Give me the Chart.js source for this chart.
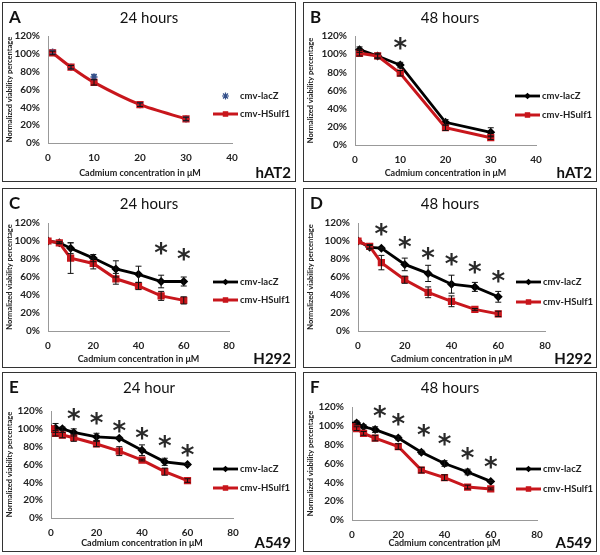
<!DOCTYPE html>
<html>
<head>
<meta charset="utf-8">
<script src="https://cdn.jsdelivr.net/npm/chart.js@4.4.0/dist/chart.umd.min.js"></script>
<style>
body { margin: 0; background: #fff; width: 600px; height: 555px; position: relative; overflow: hidden; font-family: Lato, sans-serif; color: #111; }
.panel { position: absolute; width: 294px; height: 180px; }
.panel canvas { position: absolute; left: 0; top: 0; }
.frame { position: absolute; left: 0; top: 0; right: 0; bottom: 0; border: 1px solid #333; pointer-events: none; }
.letter { position: absolute; left: 7px; top: 5px; font-weight: bold; font-size: 17px; line-height: 20px; }
.title { position: absolute; left: 0; width: 294px; top: 6px; text-align: center; font-size: 15px; line-height: 18px; }
.cell { position: absolute; right: 5px; bottom: 1px; font-weight: bold; font-size: 15px; line-height: 18px; }
</style>
</head>
<body>
<div class="panel" style="left:2px;top:2px"><canvas id="cA" width="294" height="180"></canvas><div class="letter">A</div><div class="title">24 hours</div><div class="cell">hAT2</div><div class="frame"></div></div>
<div class="panel" style="left:303px;top:2px"><canvas id="cB" width="294" height="180"></canvas><div class="letter">B</div><div class="title">48 hours</div><div class="cell">hAT2</div><div class="frame"></div></div>
<div class="panel" style="left:2px;top:188px"><canvas id="cC" width="294" height="180"></canvas><div class="letter">C</div><div class="title">24 hours</div><div class="cell">H292</div><div class="frame"></div></div>
<div class="panel" style="left:303px;top:188px"><canvas id="cD" width="294" height="180"></canvas><div class="letter">D</div><div class="title">48 hours</div><div class="cell">H292</div><div class="frame"></div></div>
<div class="panel" style="left:2px;top:372px"><canvas id="cE" width="294" height="180"></canvas><div class="letter">E</div><div class="title">24 hour</div><div class="cell">A549</div><div class="frame"></div></div>
<div class="panel" style="left:303px;top:372px"><canvas id="cF" width="294" height="180"></canvas><div class="letter">F</div><div class="title">48 hours</div><div class="cell">A549</div><div class="frame"></div></div>
<script>
// tick values
const yTicks = [0, 20, 40, 60, 80, 100, 120];
const xTicksHAT2 = [0, 10, 20, 30, 40];
const xTicksLung = [0, 20, 40, 60, 80];

// A - hAT2 24 h
const doseA = [1, 5, 10, 20, 30];
const lacZA = [102, 85, 74, 43, 27];
const lacZErrA = [2, 2, 3, 2, 2];
const hsulfA = [101, 85, 68, 43, 27];
const hsulfErrA = [2, 2, 3, 2, 2];
const starXA = [];
const starYA = [];

// B - hAT2 48 h
const doseB = [1, 5, 10, 20, 30];
const lacZB = [105, 98, 88, 25, 14];
const lacZErrB = [3, 3, 3, 3, 5];
const hsulfB = [101, 98, 79, 19, 8];
const hsulfErrB = [3, 2, 3, 3, 2];
const starXB = [10];
const starYB = [113];

// C - H292 24 h
const doseC = [0, 5, 10, 20, 30, 40, 50, 60];
const lacZC = [100, 98, 92, 81, 69, 63, 55, 55];
const lacZErrC = [0, 1, 6, 4, 9, 9, 7, 5];
const hsulfC = [100, 98, 81, 75, 58, 50, 39, 34];
const hsulfErrC = [0, 1, 17, 6, 6, 4, 5, 4];
const starXC = [50, 60];
const starYC = [93, 87];

// D - H292 48 h
const doseD = [0, 5, 10, 20, 30, 40, 50, 60];
const lacZD = [100, 93, 92, 74, 64, 52, 49, 38];
const lacZErrD = [0, 2, 1, 7, 9, 10, 5, 6];
const hsulfD = [100, 94, 76, 57, 43, 33, 24, 19];
const hsulfErrD = [0, 2, 8, 4, 6, 6, 1, 3];
const starXD = [10, 20, 30, 40, 50, 60];
const starYD = [114, 100, 88, 81, 72, 62];

// E - A549 24 h
const doseE = [0, 2, 5, 10, 20, 30, 40, 50, 60];
const lacZE = [100, 101, 100, 96, 91, 89.5, 76, 63, 60];
const lacZErrE = [0, 5, 2, 4, 4, 1, 6, 4, 1];
const hsulfE = [100, 95, 93, 90, 83, 75, 65, 52, 42];
const hsulfErrE = [0, 3, 3, 4, 3, 5, 1, 4, 2];
const starXE = [10, 20, 30, 40, 50, 60];
const starYE = [118, 113, 104, 97, 88, 77];

// F - A549 48 h
const doseF = [0, 2, 5, 10, 20, 30, 40, 50, 60];
const lacZF = [100, 103, 99, 96, 87, 72, 60, 51, 41];
const lacZErrF = [0, 2, 2, 3, 2, 2, 3, 3, 1];
const hsulfF = [99, 97, 92, 87, 78, 53, 45, 35, 33];
const hsulfErrF = [0, 2, 2, 3, 3, 3, 3, 2, 1];
const starXF = [12, 20, 31, 40, 50, 60];
const starYF = [117, 108, 97, 87, 72, 63];

Chart.defaults.font.family = 'Lato, sans-serif';
Chart.defaults.color = '#222';

const RED = '#c8161c';

function pts(xs, ys) {
  return xs.map((x, i) => ({ x: x, y: ys[i] }));
}

// vertical error bars from dataset.errors
const errorBars = {
  id: 'errorBars',
  afterDatasetsDraw(chart) {
    const ctx = chart.ctx;
    const xs = chart.scales.x, ys = chart.scales.y;
    chart.data.datasets.forEach(ds => {
      if (!ds.errors) return;
      ctx.save();
      ctx.strokeStyle = ds.errorColor || '#111';
      ctx.lineWidth = 1;
      ds.data.forEach((p, i) => {
        const e = ds.errors[i];
        if (!e) return;
        const px = xs.getPixelForValue(p.x);
        const top = ys.getPixelForValue(p.y + e);
        const bot = ys.getPixelForValue(p.y - e);
        ctx.beginPath();
        ctx.moveTo(px, top); ctx.lineTo(px, bot);
        ctx.moveTo(px - 3, top); ctx.lineTo(px + 3, top);
        ctx.moveTo(px - 3, bot); ctx.lineTo(px + 3, bot);
        ctx.stroke();
      });
      ctx.restore();
    });
  }
};

function starPlugin(sx, sy) {
  return {
    id: 'stars',
    afterDatasetsDraw(chart) {
      const ctx = chart.ctx;
      const size = 26;
      ctx.save();
      ctx.font = 'bold ' + size + 'px "DejaVu Sans"';
      ctx.fillStyle = '#2a2a2a';
      ctx.textAlign = 'center';
      ctx.textBaseline = 'alphabetic';
      sx.forEach((v, i) => {
        ctx.fillText('*', chart.scales.x.getPixelForValue(v), chart.scales.y.getPixelForValue(sy[i]) + size * 0.58);
      });
      ctx.restore();
    }
  };
}

function legendPlugin(lx, rows) {
  return {
    id: 'panelLegend',
    afterDraw(chart) {
      const ctx = chart.ctx;
      chart.data.datasets.forEach((ds, i) => {
        const y = rows[i], x0 = lx, x1 = lx + 25;
        ctx.save();
        if (ds.showLine !== false) {
          ctx.strokeStyle = ds.borderColor;
          ctx.lineWidth = ds.borderWidth;
          ctx.beginPath(); ctx.moveTo(x0, y); ctx.lineTo(x1, y); ctx.stroke();
        }
        ctx.fillStyle = ds.backgroundColor;
        ctx.strokeStyle = ds.borderColor;
        ctx.lineWidth = 1.2;
        Chart.helpers.drawPoint(ctx, { pointStyle: ds.pointStyle, radius: ds.pointRadius, rotation: 0, borderWidth: 1.2 }, (x0 + x1) / 2, y);
        ctx.font = 'bold 9.5px Lato';
        ctx.fillStyle = '#222';
        ctx.textBaseline = 'middle';
        ctx.fillText(ds.label, x1 + 2, y);
        ctx.restore();
      });
    }
  };
}

function makePanel(id, p) {
  const lacZ = {
    label: 'cmv-lacZ', data: pts(p.dose, p.lacZ), errors: p.lacZErr,
    borderColor: '#000', backgroundColor: '#000', borderWidth: 2.8,
    pointStyle: 'rectRot', pointRadius: 2.5, tension: 0, order: 1
  };
  if (p.lacZDots) {
    Object.assign(lacZ, { showLine: false, borderColor: '#34508a', backgroundColor: '#34508a', pointStyle: 'star', pointRadius: 3.5, borderWidth: 1.5, errorColor: '#34508a' });
  }
  const hsulf = {
    label: 'cmv-HSulf1', data: pts(p.dose, p.hsulf), errors: p.hsulfErr,
    borderColor: RED, backgroundColor: RED, borderWidth: 3,
    pointStyle: 'rect', pointRadius: 3, tension: p.tension || 0, order: 0
  };
  const b = p.box;
  new Chart(document.getElementById(id), {
    type: 'line',
    data: { datasets: [lacZ, hsulf] },
    options: {
      responsive: false, animation: false, events: [], devicePixelRatio: 1,
      layout: { padding: { top: b.top, right: 294 - b.right, left: 0, bottom: 0 } },
      plugins: { legend: { display: false }, tooltip: { enabled: false } },
      scales: {
        x: {
          type: 'linear', min: p.xTicks[0], max: p.xTicks[p.xTicks.length - 1],
          afterBuildTicks: s => { s.ticks = p.xTicks.map(v => ({ value: v })); },
          afterFit: s => { s.height = 180 - b.bottom; },
          grid: { display: false, tickLength: 8 },
          border: { display: true, color: '#999', width: 1 },
          ticks: { padding: 1, font: { size: 10, weight: 'bold' } },
          title: { display: true, text: p.xTitle, font: { size: 9, weight: 'bold' }, padding: { top: 0, bottom: 4 } }
        },
        y: {
          min: 0, max: 120,
          afterBuildTicks: s => { s.ticks = yTicks.map(v => ({ value: v })); },
          afterFit: s => { s.width = b.left; },
          grid: { display: false, tickLength: 7 },
          border: { display: true, color: '#999', width: 1 },
          ticks: { padding: 1, font: { size: 10, weight: 'bold' }, callback: v => v + '%' },
          title: { display: true, text: 'Normalized viability percentage', font: { size: 7.5, weight: 'bold' }, padding: { top: 3, bottom: 0 } }
        }
      }
    },
    plugins: [errorBars, starPlugin(p.starX, p.starY), legendPlugin(p.legendX, p.legendRows)]
  });
}

const xTitleIn = 'Cadmium concentration in μM';

makePanel('cA', { dose: doseA, lacZ: lacZA, lacZErr: lacZErrA, hsulf: hsulfA, hsulfErr: hsulfErrA, starX: starXA, starY: starYA,
  xTicks: xTicksHAT2, xTitle: xTitleIn, lacZDots: true, tension: 0.25,
  box: { left: 46, top: 34, right: 230, bottom: 141 }, legendX: 211, legendRows: [94, 112] });
makePanel('cB', { dose: doseB, lacZ: lacZB, lacZErr: lacZErrB, hsulf: hsulfB, hsulfErr: hsulfErrB, starX: starXB, starY: starYB,
  xTicks: xTicksHAT2, xTitle: xTitleIn,
  box: { left: 52, top: 34, right: 233, bottom: 143 }, legendX: 212, legendRows: [94, 113] });
makePanel('cC', { dose: doseC, lacZ: lacZC, lacZErr: lacZErrC, hsulf: hsulfC, hsulfErr: hsulfErrC, starX: starXC, starY: starYC,
  xTicks: xTicksLung, xTitle: xTitleIn,
  box: { left: 46, top: 35, right: 227, bottom: 143 }, legendX: 211, legendRows: [94, 112] });
makePanel('cD', { dose: doseD, lacZ: lacZD, lacZErr: lacZErrD, hsulf: hsulfD, hsulfErr: hsulfErrD, starX: starXD, starY: starYD,
  xTicks: xTicksLung, xTitle: xTitleIn,
  box: { left: 55, top: 35, right: 242, bottom: 143 }, legendX: 213, legendRows: [94, 114] });
makePanel('cE', { dose: doseE, lacZ: lacZE, lacZErr: lacZErrE, hsulf: hsulfE, hsulfErr: hsulfErrE, starX: starXE, starY: starYE,
  xTicks: xTicksLung, xTitle: xTitleIn,
  box: { left: 49, top: 39, right: 231, bottom: 146 }, legendX: 211, legendRows: [97, 116] });
makePanel('cF', { dose: doseF, lacZ: lacZF, lacZErr: lacZErrF, hsulf: hsulfF, hsulfErr: hsulfErrF, starX: starXF, starY: starYF,
  xTicks: xTicksLung, xTitle: 'Cadmium concentration μM',
  box: { left: 49, top: 35, right: 234, bottom: 148 }, legendX: 213, legendRows: [97, 117] });
</script>
</body>
</html>
